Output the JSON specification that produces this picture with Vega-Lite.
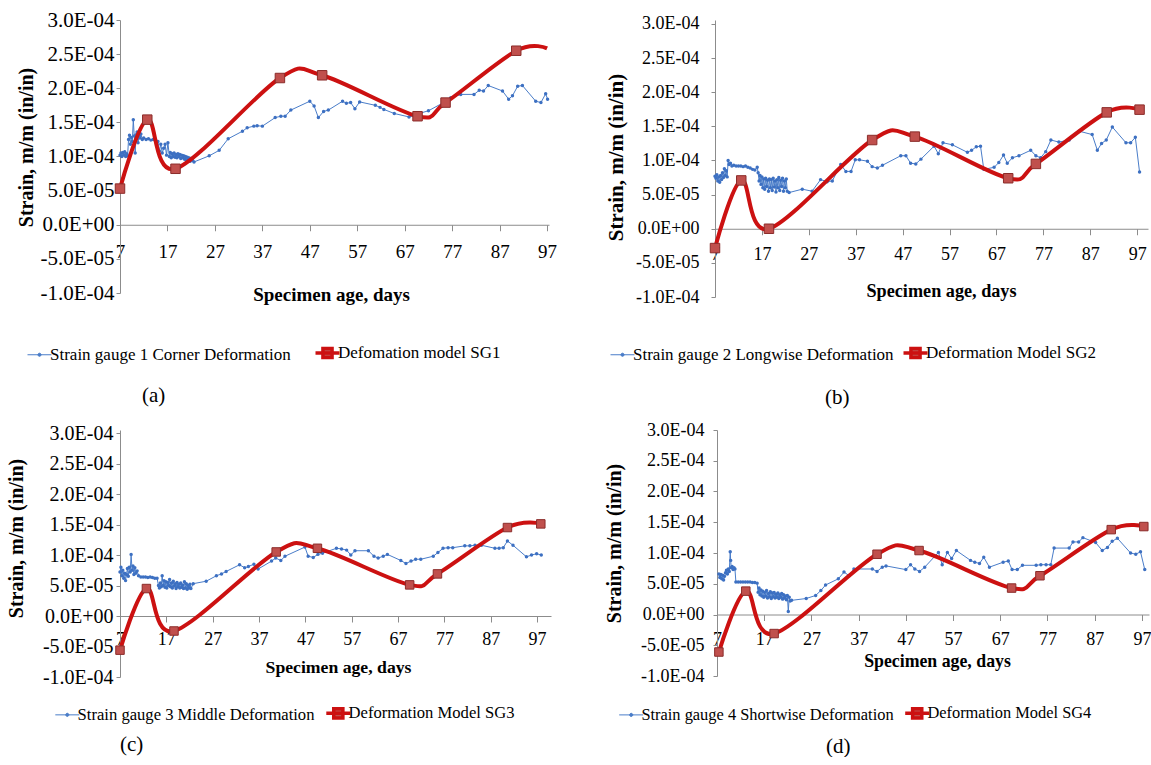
{
"$schema": "https://vega.github.io/schema/vega-lite/v6.json",
"padding": {"left": 5, "top": 9, "right": 0, "bottom": 0},
"background": "white",
"config": {
 "font": "Liberation Serif",
 "view": {"stroke": null},
 "axis": {"grid": false, "domainColor": "#8c8c8c", "tickColor": "#8c8c8c", "labelColor": "#000000", "titleColor": "#000000", "labelFont": "Liberation Serif", "titleFont": "Liberation Serif", "titleFontWeight": "bold", "labelFlush": false, "labelOverlap": false, "labelBound": false},
 "legend": {"labelFont": "Liberation Serif", "labelColor": "#000000", "labelLimit": 1000, "direction": "horizontal", "orient": "none", "symbolSize": 576, "labelOffset": 2}
},
"datasets": {
 "m1": [{"d":7,"s":5.3e-5},{"d":12.75,"s":1.54e-4},{"d":18.7,"s":8.2e-5},{"d":40.7,"s":2.15e-4},{"d":49.6,"s":2.19e-4},{"d":69.7,"s":1.59e-4},{"d":75.6,"s":1.79e-4},{"d":90.5,"s":2.55e-4},{"d":97,"s":2.585e-4}],
 "m2": [{"d":7,"s":-2.83e-5},{"d":12.6,"s":7.08e-5},{"d":18.5,"s":0},{"d":40.5,"s":1.30e-4},{"d":49.6,"s":1.35e-4},{"d":69.5,"s":7.4e-5},{"d":75.4,"s":9.5e-5},{"d":90.5,"s":1.705e-4},{"d":97.5,"s":1.745e-4}],
 "m3": [{"d":7,"s":-5.6e-5},{"d":12.7,"s":4.5e-5},{"d":18.65,"s":-2.46e-5},{"d":40.7,"s":1.05e-4},{"d":49.6,"s":1.11e-4},{"d":69.5,"s":5.1e-5},{"d":75.5,"s":6.9e-5},{"d":90.6,"s":1.45e-4},{"d":97.8,"s":1.51e-4}],
 "m4": [{"d":7.4,"s":-6.1e-5},{"d":13.1,"s":3.8e-5},{"d":19.1,"s":-3.1e-5},{"d":40.9,"s":9.8e-5},{"d":49.8,"s":1.04e-4},{"d":69.4,"s":4.3e-5},{"d":75.4,"s":6.3e-5},{"d":90.5,"s":1.38e-4},{"d":97.4,"s":1.43e-4}],
 "g1": [{"d":7,"s":1.02e-4},{"d":7.2,"s":1.05e-4},{"d":7.4,"s":1.0e-4},{"d":7.6,"s":1.06e-4},{"d":7.8,"s":1.02e-4},{"d":8.0,"s":1.07e-4},{"d":8.2,"s":1.0e-4},{"d":8.4,"s":1.04e-4},{"d":8.6,"s":1.01e-4},{"d":8.8,"s":1.25e-4},{"d":9.0,"s":1.31e-4},{"d":9.2,"s":1.18e-4},{"d":9.4,"s":1.28e-4},{"d":9.6,"s":1.22e-4},{"d":9.8,"s":1.54e-4},{"d":10.0,"s":1.3e-4},{"d":10.2,"s":1.05e-4},{"d":10.4,"s":1.32e-4},{"d":10.6,"s":1.36e-4},{"d":10.8,"s":1.2e-4},{"d":11.0,"s":1.3e-4},{"d":11.2,"s":1.27e-4},{"d":11.4,"s":1.33e-4},{"d":11.7,"s":1.25e-4},{"d":12.0,"s":1.27e-4},{"d":12.5,"s":1.25e-4},{"d":13.0,"s":1.26e-4},{"d":13.5,"s":1.24e-4},{"d":14.0,"s":1.25e-4},{"d":14.5,"s":1.24e-4},{"d":15.0,"s":1.22e-4},{"d":15.3,"s":1.08e-4},{"d":15.6,"s":1.18e-4},{"d":15.9,"s":1.05e-4},{"d":16.2,"s":1.12e-4},{"d":16.5,"s":1.18e-4},{"d":16.8,"s":1.02e-4},{"d":17.1,"s":1.2e-4},{"d":17.4,"s":1.0e-4},{"d":17.6,"s":1.06e-4},{"d":17.8,"s":9.8e-5},{"d":18.0,"s":1.04e-4},{"d":18.2,"s":1.0e-4},{"d":18.4,"s":1.05e-4},{"d":18.6,"s":9.9e-5},{"d":18.8,"s":1.03e-4},{"d":19.0,"s":9.8e-5},{"d":19.2,"s":1.04e-4},{"d":19.4,"s":1.0e-4},{"d":19.6,"s":1.03e-4},{"d":19.8,"s":9.7e-5},{"d":20.0,"s":1.02e-4},{"d":20.2,"s":9.8e-5},{"d":20.4,"s":1.01e-4},{"d":20.6,"s":9.6e-5},{"d":20.8,"s":1.0e-4},{"d":21.0,"s":9.5e-5},{"d":21.2,"s":9.9e-5},{"d":21.4,"s":9.4e-5},{"d":21.6,"s":9.8e-5},{"d":21.8,"s":9.3e-5},{"d":22.0,"s":9.7e-5},{"d":22.3,"s":9.4e-5},{"d":22.6,"s":9.2e-5},{"d":25.8,"s":1.01e-4},{"d":27.9,"s":1.09e-4},{"d":29.8,"s":1.26e-4},{"d":32.8,"s":1.37e-4},{"d":33.8,"s":1.42e-4},{"d":35.2,"s":1.445e-4},{"d":35.9,"s":1.45e-4},{"d":37.0,"s":1.445e-4},{"d":39.7,"s":1.57e-4},{"d":40.9,"s":1.59e-4},{"d":41.8,"s":1.59e-4},{"d":43.0,"s":1.68e-4},{"d":47.0,"s":1.81e-4},{"d":47.9,"s":1.74e-4},{"d":48.8,"s":1.57e-4},{"d":49.9,"s":1.66e-4},{"d":50.9,"s":1.68e-4},{"d":53.9,"s":1.81e-4},{"d":54.7,"s":1.78e-4},{"d":55.6,"s":1.79e-4},{"d":56.5,"s":1.70e-4},{"d":57.5,"s":1.80e-4},{"d":60.8,"s":1.75e-4},{"d":61.8,"s":1.72e-4},{"d":62.6,"s":1.69e-4},{"d":64.8,"s":1.63e-4},{"d":67.9,"s":1.58e-4},{"d":69.0,"s":1.6e-4},{"d":70.0,"s":1.63e-4},{"d":72.0,"s":1.67e-4},{"d":75.7,"s":1.81e-4},{"d":76.7,"s":1.86e-4},{"d":78.8,"s":1.91e-4},{"d":81.6,"s":1.91e-4},{"d":82.7,"s":1.97e-4},{"d":83.6,"s":1.96e-4},{"d":84.6,"s":2.04e-4},{"d":87.6,"s":1.96e-4},{"d":88.9,"s":1.84e-4},{"d":89.7,"s":1.89e-4},{"d":90.8,"s":2.03e-4},{"d":91.8,"s":2.04e-4},{"d":94.6,"s":1.81e-4},{"d":95.7,"s":1.79e-4},{"d":96.7,"s":1.92e-4},{"d":97.1,"s":1.84e-4}],
 "g2": [{"d":7.0,"s":7.7e-5},{"d":7.2,"s":7.4e-5},{"d":7.4,"s":7.9e-5},{"d":7.6,"s":7.0e-5},{"d":7.8,"s":7.6e-5},{"d":8.0,"s":6.8e-5},{"d":8.2,"s":7.8e-5},{"d":8.4,"s":7.2e-5},{"d":8.6,"s":8.2e-5},{"d":8.8,"s":7.5e-5},{"d":9.0,"s":8.8e-5},{"d":9.2,"s":7.8e-5},{"d":9.4,"s":8.5e-5},{"d":9.6,"s":7.6e-5},{"d":9.8,"s":1.0e-4},{"d":10.0,"s":9.4e-5},{"d":10.3,"s":9.6e-5},{"d":10.6,"s":9.2e-5},{"d":11.0,"s":9.3e-5},{"d":11.5,"s":9.2e-5},{"d":12.0,"s":9.2e-5},{"d":12.5,"s":9.2e-5},{"d":13.0,"s":9.1e-5},{"d":13.5,"s":9.2e-5},{"d":14.0,"s":9.0e-5},{"d":14.5,"s":8.9e-5},{"d":15.0,"s":8.7e-5},{"d":15.5,"s":8.6e-5},{"d":16.0,"s":9.0e-5},{"d":16.2,"s":8.2e-5},{"d":16.4,"s":7.0e-5},{"d":16.6,"s":7.8e-5},{"d":16.8,"s":6.5e-5},{"d":17.0,"s":7.6e-5},{"d":17.2,"s":6.0e-5},{"d":17.4,"s":7.3e-5},{"d":17.6,"s":5.8e-5},{"d":17.8,"s":7.4e-5},{"d":18.0,"s":6.2e-5},{"d":18.2,"s":7.1e-5},{"d":18.4,"s":5.5e-5},{"d":18.6,"s":7.3e-5},{"d":18.8,"s":6.0e-5},{"d":19.0,"s":7.2e-5},{"d":19.2,"s":5.6e-5},{"d":19.4,"s":7.4e-5},{"d":19.6,"s":6.1e-5},{"d":19.8,"s":7.0e-5},{"d":20.0,"s":5.4e-5},{"d":20.2,"s":7.2e-5},{"d":20.4,"s":6.0e-5},{"d":20.6,"s":7.5e-5},{"d":20.8,"s":5.6e-5},{"d":21.0,"s":7.1e-5},{"d":21.2,"s":6.2e-5},{"d":21.4,"s":7.4e-5},{"d":21.6,"s":5.5e-5},{"d":21.8,"s":7.0e-5},{"d":22.0,"s":6.0e-5},{"d":22.2,"s":7.3e-5},{"d":22.4,"s":5.5e-5},{"d":22.8,"s":5.3e-5},{"d":25.6,"s":5.8e-5},{"d":27.7,"s":5.5e-5},{"d":29.5,"s":7.2e-5},{"d":30.9,"s":6.9e-5},{"d":32.0,"s":7.0e-5},{"d":33.8,"s":9.4e-5},{"d":34.9,"s":8.4e-5},{"d":36.0,"s":8.4e-5},{"d":36.9,"s":1.01e-4},{"d":37.8,"s":1.01e-4},{"d":39.5,"s":9.9e-5},{"d":40.5,"s":9.1e-5},{"d":41.6,"s":8.9e-5},{"d":42.7,"s":9.3e-5},{"d":46.6,"s":1.07e-4},{"d":47.7,"s":1.07e-4},{"d":48.7,"s":9.6e-5},{"d":49.8,"s":9.5e-5},{"d":50.9,"s":1.02e-4},{"d":53.7,"s":1.21e-4},{"d":54.6,"s":1.10e-4},{"d":55.6,"s":1.26e-4},{"d":57.6,"s":1.23e-4},{"d":60.8,"s":1.12e-4},{"d":61.7,"s":1.15e-4},{"d":62.7,"s":1.20e-4},{"d":63.6,"s":1.21e-4},{"d":64.3,"s":8.7e-5},{"d":66.5,"s":9.0e-5},{"d":67.5,"s":9.7e-5},{"d":68.5,"s":1.08e-4},{"d":69.3,"s":9.6e-5},{"d":70.4,"s":1.04e-4},{"d":71.8,"s":1.07e-4},{"d":74.3,"s":1.15e-4},{"d":75.4,"s":1.07e-4},{"d":76.4,"s":1.04e-4},{"d":77.5,"s":1.13e-4},{"d":78.6,"s":1.30e-4},{"d":80.3,"s":1.27e-4},{"d":82.5,"s":1.30e-4},{"d":84.6,"s":1.43e-4},{"d":87.4,"s":1.38e-4},{"d":88.5,"s":1.15e-4},{"d":89.4,"s":1.25e-4},{"d":90.4,"s":1.30e-4},{"d":91.7,"s":1.49e-4},{"d":94.6,"s":1.26e-4},{"d":95.6,"s":1.26e-4},{"d":96.6,"s":1.34e-4},{"d":97.5,"s":8.3e-5}],
 "g3": [{"d":7.0,"s":7.2e-5},{"d":7.2,"s":8.0e-5},{"d":7.4,"s":6.6e-5},{"d":7.6,"s":7.5e-5},{"d":7.8,"s":6.2e-5},{"d":8.0,"s":7.0e-5},{"d":8.2,"s":5.8e-5},{"d":8.4,"s":6.8e-5},{"d":8.6,"s":7.8e-5},{"d":8.8,"s":6.5e-5},{"d":9.0,"s":8.0e-5},{"d":9.2,"s":7.2e-5},{"d":9.4,"s":1.01e-4},{"d":9.6,"s":7.5e-5},{"d":9.8,"s":8.2e-5},{"d":10.0,"s":6.8e-5},{"d":10.2,"s":7.9e-5},{"d":10.4,"s":7.0e-5},{"d":10.7,"s":7.4e-5},{"d":11.0,"s":6.6e-5},{"d":11.5,"s":6.4e-5},{"d":12.0,"s":6.4e-5},{"d":12.5,"s":6.4e-5},{"d":13.0,"s":6.3e-5},{"d":13.5,"s":6.4e-5},{"d":14.0,"s":6.3e-5},{"d":14.5,"s":6.2e-5},{"d":15.0,"s":6.2e-5},{"d":15.3,"s":5.0e-5},{"d":15.5,"s":4.6e-5},{"d":15.7,"s":5.4e-5},{"d":15.9,"s":4.8e-5},{"d":16.1,"s":6.6e-5},{"d":16.3,"s":5.0e-5},{"d":16.5,"s":5.8e-5},{"d":16.7,"s":4.7e-5},{"d":16.9,"s":5.6e-5},{"d":17.1,"s":4.6e-5},{"d":17.3,"s":5.5e-5},{"d":17.5,"s":5.0e-5},{"d":17.7,"s":6.0e-5},{"d":17.9,"s":4.8e-5},{"d":18.1,"s":5.4e-5},{"d":18.3,"s":4.6e-5},{"d":18.5,"s":5.7e-5},{"d":18.7,"s":4.9e-5},{"d":18.9,"s":5.3e-5},{"d":19.1,"s":4.5e-5},{"d":19.3,"s":5.5e-5},{"d":19.5,"s":4.8e-5},{"d":19.7,"s":5.2e-5},{"d":19.9,"s":4.6e-5},{"d":20.1,"s":5.4e-5},{"d":20.3,"s":4.7e-5},{"d":20.5,"s":5.1e-5},{"d":20.7,"s":4.5e-5},{"d":20.9,"s":5.6e-5},{"d":21.1,"s":4.6e-5},{"d":21.3,"s":5.3e-5},{"d":21.5,"s":4.4e-5},{"d":21.7,"s":5.0e-5},{"d":21.9,"s":4.6e-5},{"d":22.1,"s":5.2e-5},{"d":22.3,"s":4.5e-5},{"d":22.8,"s":5.3e-5},{"d":25.6,"s":5.7e-5},{"d":27.8,"s":6.6e-5},{"d":28.9,"s":6.9e-5},{"d":29.9,"s":7.3e-5},{"d":32.8,"s":8.4e-5},{"d":33.9,"s":7.9e-5},{"d":34.7,"s":8.1e-5},{"d":35.9,"s":8.5e-5},{"d":36.8,"s":7.7e-5},{"d":39.7,"s":9.0e-5},{"d":40.6,"s":9.5e-5},{"d":41.7,"s":9.1e-5},{"d":42.6,"s":9.8e-5},{"d":46.9,"s":1.13e-4},{"d":47.6,"s":9.8e-5},{"d":48.7,"s":9.6e-5},{"d":49.7,"s":1.01e-4},{"d":50.7,"s":1.03e-4},{"d":53.7,"s":1.11e-4},{"d":54.8,"s":1.10e-4},{"d":55.9,"s":1.08e-4},{"d":56.8,"s":1.0e-4},{"d":57.7,"s":1.07e-4},{"d":60.6,"s":1.07e-4},{"d":61.8,"s":9.8e-5},{"d":62.7,"s":9.5e-5},{"d":63.8,"s":9.8e-5},{"d":64.7,"s":1.01e-4},{"d":67.6,"s":9.1e-5},{"d":68.7,"s":8.6e-5},{"d":69.8,"s":9.0e-5},{"d":70.8,"s":9.3e-5},{"d":71.9,"s":9.3e-5},{"d":74.6,"s":9.8e-5},{"d":75.6,"s":1.04e-4},{"d":76.7,"s":1.11e-4},{"d":77.8,"s":1.12e-4},{"d":78.8,"s":1.12e-4},{"d":81.4,"s":1.15e-4},{"d":82.5,"s":1.15e-4},{"d":83.6,"s":1.16e-4},{"d":85.0,"s":1.16e-4},{"d":87.9,"s":1.11e-4},{"d":88.8,"s":1.11e-4},{"d":89.7,"s":1.12e-4},{"d":90.6,"s":1.23e-4},{"d":91.8,"s":1.16e-4},{"d":94.7,"s":9.7e-5},{"d":95.8,"s":1.0e-4},{"d":96.9,"s":1.02e-4},{"d":97.9,"s":1.0e-4}],
 "g4": [{"d":7.4,"s":6.6e-5},{"d":7.6,"s":6.0e-5},{"d":7.8,"s":6.5e-5},{"d":8.0,"s":5.8e-5},{"d":8.2,"s":6.4e-5},{"d":8.4,"s":5.6e-5},{"d":8.6,"s":6.2e-5},{"d":8.8,"s":6.8e-5},{"d":9.0,"s":7.2e-5},{"d":9.2,"s":6.6e-5},{"d":9.4,"s":7.4e-5},{"d":9.6,"s":7.0e-5},{"d":9.8,"s":1.02e-4},{"d":9.9,"s":8.8e-5},{"d":10.0,"s":7.6e-5},{"d":10.2,"s":7.8e-5},{"d":10.4,"s":7.3e-5},{"d":10.6,"s":7.6e-5},{"d":10.8,"s":7.4e-5},{"d":11.0,"s":5.3e-5},{"d":11.5,"s":5.3e-5},{"d":12.0,"s":5.3e-5},{"d":12.5,"s":5.3e-5},{"d":13.0,"s":5.3e-5},{"d":13.5,"s":5.3e-5},{"d":14.0,"s":5.3e-5},{"d":14.5,"s":5.2e-5},{"d":15.0,"s":5.2e-5},{"d":15.5,"s":5.1e-5},{"d":15.7,"s":3.6e-5},{"d":15.9,"s":4.3e-5},{"d":16.1,"s":3.2e-5},{"d":16.3,"s":4.0e-5},{"d":16.5,"s":3.0e-5},{"d":16.7,"s":3.8e-5},{"d":16.9,"s":2.8e-5},{"d":17.1,"s":3.6e-5},{"d":17.3,"s":3.0e-5},{"d":17.5,"s":3.9e-5},{"d":17.7,"s":2.7e-5},{"d":17.9,"s":3.4e-5},{"d":18.1,"s":2.9e-5},{"d":18.3,"s":3.7e-5},{"d":18.5,"s":2.6e-5},{"d":18.7,"s":3.5e-5},{"d":18.9,"s":2.9e-5},{"d":19.1,"s":3.6e-5},{"d":19.3,"s":2.7e-5},{"d":19.5,"s":3.3e-5},{"d":19.7,"s":2.8e-5},{"d":19.9,"s":3.5e-5},{"d":20.1,"s":2.6e-5},{"d":20.3,"s":3.2e-5},{"d":20.5,"s":2.8e-5},{"d":20.7,"s":3.4e-5},{"d":20.9,"s":2.5e-5},{"d":21.1,"s":3.2e-5},{"d":21.3,"s":2.7e-5},{"d":21.5,"s":3.0e-5},{"d":21.7,"s":2.4e-5},{"d":21.9,"s":3.1e-5},{"d":22.1,"s":5e-6},{"d":22.3,"s":2.8e-5},{"d":22.5,"s":2.2e-5},{"d":22.8,"s":2.3e-5},{"d":25.9,"s":2.6e-5},{"d":27.9,"s":3.1e-5},{"d":29.0,"s":3.9e-5},{"d":30.0,"s":4.8e-5},{"d":32.7,"s":5.8e-5},{"d":33.9,"s":6.9e-5},{"d":35.0,"s":6.3e-5},{"d":36.0,"s":7.4e-5},{"d":39.9,"s":7.4e-5},{"d":40.9,"s":7.0e-5},{"d":42.0,"s":7.7e-5},{"d":42.8,"s":7.9e-5},{"d":47.0,"s":7.3e-5},{"d":48.0,"s":8.1e-5},{"d":48.9,"s":7.4e-5},{"d":49.9,"s":7.0e-5},{"d":51.0,"s":7.7e-5},{"d":53.9,"s":1.01e-4},{"d":54.7,"s":8.1e-5},{"d":55.8,"s":1.01e-4},{"d":56.7,"s":9.1e-5},{"d":57.7,"s":1.04e-4},{"d":60.7,"s":8.8e-5},{"d":61.6,"s":8.5e-5},{"d":62.6,"s":8.3e-5},{"d":63.5,"s":9.3e-5},{"d":64.7,"s":7.7e-5},{"d":67.6,"s":8.5e-5},{"d":68.7,"s":8.7e-5},{"d":69.5,"s":7.3e-5},{"d":70.6,"s":7.3e-5},{"d":71.7,"s":8.0e-5},{"d":74.6,"s":8.0e-5},{"d":75.6,"s":8.1e-5},{"d":76.7,"s":8.1e-5},{"d":77.7,"s":8.1e-5},{"d":78.4,"s":1.08e-4},{"d":81.6,"s":1.08e-4},{"d":82.4,"s":1.18e-4},{"d":83.6,"s":1.18e-4},{"d":84.5,"s":1.25e-4},{"d":87.2,"s":1.17e-4},{"d":88.6,"s":1.04e-4},{"d":89.7,"s":1.09e-4},{"d":90.7,"s":1.19e-4},{"d":91.8,"s":1.24e-4},{"d":94.6,"s":1.0e-4},{"d":95.7,"s":9.8e-5},{"d":96.7,"s":1.02e-4},{"d":97.6,"s":7.3e-5}]
},
"spacing": 410,
"bounds": "flush",
"resolve": {"scale": {"color": "independent"}, "legend": {"color": "independent"}},
"vconcat": [
 {"hconcat": [
  {"width": 429, "height": 273,
   "title": {"text": "(a)", "orient": "bottom", "anchor": "start", "frame": "group", "dx": 22, "offset": 20, "fontSize": 21, "fontWeight": "normal", "font": "Liberation Serif", "color": "#000000"},
   "encoding": {
    "x": {"field": "d", "type": "quantitative", "scale": {"domain": [7, 97.4], "nice": false, "zero": false},
          "axis": {"values": [7,17,27,37,47,57,67,77,87,97], "offset": -68.25, "title": "Specimen age, days", "titleX": 211, "titleY": 61, "labelFontSize": 19, "titleFontSize": 19, "labelPadding": 12, "tickSize": 6}},
    "y": {"field": "s", "type": "quantitative", "scale": {"domain": [-0.0001, 0.0003], "nice": false, "zero": false},
          "axis": {"values": [-0.0001,-0.00005,0,0.00005,0.0001,0.00015,0.0002,0.00025,0.0003], "labelExpr": "datum.value == 0 ? '0.0E+00' : (datum.value < 0 ? '-' : '') + (abs(datum.value) > 0.00009 ? format(abs(datum.value)*10000, '.1f') + 'E-04' : format(abs(datum.value)*100000, '.1f') + 'E-05')", "title": "Strain, m/m (in/in)", "titleX": -84, "titleY": 127, "labelFontSize": 21, "titleFontSize": 20, "tickSize": 4, "labelPadding": 2}}
   },
   "layer": [
    {"data": {"name": "g1"}, "mark": {"type": "line", "strokeWidth": 1},
     "encoding": {"color": {"datum": "Strain gauge 1 Corner Deformation", "scale": {"domain": ["Strain gauge 1 Corner Deformation", "Defomation model SG1"], "range": ["#4a7dc9", "#cc1111"]},
       "legend": {"title": null, "legendX": -89, "legendY": 324, "labelFontSize": 17, "columnPadding": 17,
         "encode": {"symbols": {"update": {
           "shape": {"signal": "datum.index == 1 ? 'M-1,0H1M-0.38,-0.38H0.38V0.38H-0.38Z' : 'M-1,0H1M-0.13,0A0.13,0.13,0,1,1,0.13,0A0.13,0.13,0,1,1,-0.13,0Z'"},
           "fill": {"signal": "datum.index == 1 ? '#c0504d' : '#4a7dc9'"},
           "stroke": {"signal": "datum.index == 1 ? '#cc1111' : '#4a7dc9'"},
           "strokeWidth": {"signal": "datum.index == 1 ? 3.5 : 1"},
           "size": {"value": 576}, "opacity": {"value": 1}, "fillOpacity": {"value": 1}, "strokeOpacity": {"value": 1}}}}}}}},
    {"data": {"name": "g1"}, "mark": {"type": "point", "filled": true, "size": 12, "color": "#3d70c2", "opacity": 1}},
    {"data": {"name": "m1"}, "mark": {"type": "line", "interpolate": "cardinal", "tension": 0, "strokeWidth": 4},
     "encoding": {"color": {"datum": "Defomation model SG1"}}},
    {"data": {"name": "m1"}, "transform": [{"filter": "datum.d < 95"}], "mark": {"type": "square", "size": 90, "filled": true, "color": "#c0504d", "stroke": "#8b2c2a", "strokeWidth": 1, "opacity": 1}}
   ]},
  {"width": 433, "height": 277,
   "title": {"text": "(b)", "orient": "bottom", "anchor": "start", "frame": "group", "dx": 110, "offset": 22, "fontSize": 21, "fontWeight": "normal", "font": "Liberation Serif", "color": "#000000"},
   "encoding": {
    "x": {"field": "d", "type": "quantitative", "scale": {"domain": [7, 99.3], "nice": false, "zero": false},
          "axis": {"values": [7,17,27,37,47,57,67,77,87,97], "offset": -68.25, "title": "Specimen age, days", "titleX": 226, "titleY": 54, "labelFontSize": 18, "titleFontSize": 18.2, "labelPadding": 10.6, "tickSize": 6}},
    "y": {"field": "s", "type": "quantitative", "scale": {"domain": [-0.0001, 0.00030586], "nice": false, "zero": false},
          "axis": {"values": [-0.0001,-0.00005,0,0.00005,0.0001,0.00015,0.0002,0.00025,0.0003], "labelExpr": "datum.value == 0 ? '0.0E+00' : (datum.value < 0 ? '-' : '') + (abs(datum.value) > 0.00009 ? format(abs(datum.value)*10000, '.1f') + 'E-04' : format(abs(datum.value)*100000, '.1f') + 'E-05')", "title": "Strain, m/m (in/in)", "titleX": -88.5, "titleY": 137, "labelFontSize": 18, "titleFontSize": 21, "tickSize": 4, "labelPadding": 12}}
   },
   "layer": [
    {"data": {"name": "g2"}, "mark": {"type": "line", "strokeWidth": 1},
     "encoding": {"color": {"datum": "Strain gauge 2 Longwise Deformation", "scale": {"domain": ["Strain gauge 2 Longwise Deformation", "Deformation Model SG2"], "range": ["#4a7dc9", "#cc1111"]},
       "legend": {"title": null, "legendX": -101, "legendY": 324, "labelFontSize": 17, "columnPadding": 2,
         "encode": {"symbols": {"update": {
           "shape": {"signal": "datum.index == 1 ? 'M-1,0H1M-0.38,-0.38H0.38V0.38H-0.38Z' : 'M-1,0H1M-0.13,0A0.13,0.13,0,1,1,0.13,0A0.13,0.13,0,1,1,-0.13,0Z'"},
           "fill": {"signal": "datum.index == 1 ? '#c0504d' : '#4a7dc9'"},
           "stroke": {"signal": "datum.index == 1 ? '#cc1111' : '#4a7dc9'"},
           "strokeWidth": {"signal": "datum.index == 1 ? 3.5 : 1"},
           "size": {"value": 576}, "opacity": {"value": 1}, "fillOpacity": {"value": 1}, "strokeOpacity": {"value": 1}}}}}}}},
    {"data": {"name": "g2"}, "mark": {"type": "point", "filled": true, "size": 12, "color": "#3d70c2", "opacity": 1}},
    {"data": {"name": "m2"}, "mark": {"type": "line", "interpolate": "cardinal", "tension": 0, "strokeWidth": 4},
     "encoding": {"color": {"datum": "Deformation Model SG2"}}},
    {"data": {"name": "m2"}, "mark": {"type": "square", "size": 90, "filled": true, "color": "#c0504d", "stroke": "#8b2c2a", "strokeWidth": 1, "opacity": 1}}
   ]}
 ], "spacing": 166, "bounds": "flush", "resolve": {"scale": {"color": "independent"}, "legend": {"color": "independent"}}},
 {"hconcat": [
  {"width": 431, "height": 247,
   "title": {"text": "(c)", "orient": "bottom", "anchor": "start", "frame": "group", "dx": 0, "offset": 9, "fontSize": 21, "fontWeight": "normal", "font": "Liberation Serif", "color": "#000000"},
   "encoding": {
    "x": {"field": "d", "type": "quantitative", "scale": {"domain": [7, 100], "nice": false, "zero": false},
          "axis": {"values": [7,17,27,37,47,57,67,77,87,97], "offset": -61, "title": "Specimen age, days", "titleX": 218, "titleY": 42, "labelFontSize": 18, "titleFontSize": 17.7, "labelPadding": 8, "tickSize": 6}},
    "y": {"field": "s", "type": "quantitative", "scale": {"domain": [-0.0001, 0.00030492], "nice": false, "zero": false},
          "axis": {"values": [-0.0001,-0.00005,0,0.00005,0.0001,0.00015,0.0002,0.00025,0.0003], "labelExpr": "datum.value == 0 ? '0.0E+00' : (datum.value < 0 ? '-' : '') + (abs(datum.value) > 0.00009 ? format(abs(datum.value)*10000, '.1f') + 'E-04' : format(abs(datum.value)*100000, '.1f') + 'E-05')", "title": "Strain, m/m (in/in)", "titleX": -94, "titleY": 108, "labelFontSize": 20, "titleFontSize": 20, "tickSize": 4, "labelPadding": 3}}
   },
   "layer": [
    {"data": {"name": "g3"}, "mark": {"type": "line", "strokeWidth": 1},
     "encoding": {"color": {"datum": "Strain gauge 3 Middle Deformation", "scale": {"domain": ["Strain gauge 3 Middle Deformation", "Deformation Model SG3"], "range": ["#4a7dc9", "#cc1111"]},
       "legend": {"title": null, "legendX": -61, "legendY": 275, "labelFontSize": 16.6, "columnPadding": 4,
         "encode": {"symbols": {"update": {
           "shape": {"signal": "datum.index == 1 ? 'M-1,0H1M-0.38,-0.38H0.38V0.38H-0.38Z' : 'M-1,0H1M-0.13,0A0.13,0.13,0,1,1,0.13,0A0.13,0.13,0,1,1,-0.13,0Z'"},
           "fill": {"signal": "datum.index == 1 ? '#c0504d' : '#4a7dc9'"},
           "stroke": {"signal": "datum.index == 1 ? '#cc1111' : '#4a7dc9'"},
           "strokeWidth": {"signal": "datum.index == 1 ? 3.5 : 1"},
           "size": {"value": 576}, "opacity": {"value": 1}, "fillOpacity": {"value": 1}, "strokeOpacity": {"value": 1}}}}}}}},
    {"data": {"name": "g3"}, "mark": {"type": "point", "filled": true, "size": 12, "color": "#3d70c2", "opacity": 1}},
    {"data": {"name": "m3"}, "mark": {"type": "line", "interpolate": "cardinal", "tension": 0, "strokeWidth": 4},
     "encoding": {"color": {"datum": "Deformation Model SG3"}}},
    {"data": {"name": "m3"}, "mark": {"type": "square", "size": 72, "filled": true, "color": "#c0504d", "stroke": "#8b2c2a", "strokeWidth": 1, "opacity": 1}}
   ]},
  {"width": 432, "height": 246,
   "title": {"text": "(d)", "orient": "bottom", "anchor": "start", "frame": "group", "dx": 109, "offset": 11, "fontSize": 21, "fontWeight": "normal", "font": "Liberation Serif", "color": "#000000"},
   "encoding": {
    "x": {"field": "d", "type": "quantitative", "scale": {"domain": [7, 98.5], "nice": false, "zero": false},
          "axis": {"values": [7,17,27,37,47,57,67,77,87,97], "offset": -61.5, "title": "Specimen age, days", "titleX": 220, "titleY": 37.5, "labelFontSize": 18, "titleFontSize": 17.8, "labelPadding": 9.5, "tickSize": 6}},
    "y": {"field": "s", "type": "quantitative", "scale": {"domain": [-0.0001, 0.0003], "nice": false, "zero": false},
          "axis": {"values": [-0.0001,-0.00005,0,0.00005,0.0001,0.00015,0.0002,0.00025,0.0003], "labelExpr": "datum.value == 0 ? '0.0E+00' : (datum.value < 0 ? '-' : '') + (abs(datum.value) > 0.00009 ? format(abs(datum.value)*10000, '.1f') + 'E-04' : format(abs(datum.value)*100000, '.1f') + 'E-05')", "title": "Strain, m/m (in/in)", "titleX": -93, "titleY": 113, "labelFontSize": 18, "titleFontSize": 20, "tickSize": 4, "labelPadding": 9}}
   },
   "layer": [
    {"data": {"name": "g4"}, "mark": {"type": "line", "strokeWidth": 1},
     "encoding": {"color": {"datum": "Strain gauge 4 Shortwise Deformation", "scale": {"domain": ["Strain gauge 4 Shortwise Deformation", "Deformation Model SG4"], "range": ["#4a7dc9", "#cc1111"]},
       "legend": {"title": null, "legendX": -94, "legendY": 275, "labelFontSize": 16.4, "columnPadding": 4,
         "encode": {"symbols": {"update": {
           "shape": {"signal": "datum.index == 1 ? 'M-1,0H1M-0.38,-0.38H0.38V0.38H-0.38Z' : 'M-1,0H1M-0.13,0A0.13,0.13,0,1,1,0.13,0A0.13,0.13,0,1,1,-0.13,0Z'"},
           "fill": {"signal": "datum.index == 1 ? '#c0504d' : '#4a7dc9'"},
           "stroke": {"signal": "datum.index == 1 ? '#cc1111' : '#4a7dc9'"},
           "strokeWidth": {"signal": "datum.index == 1 ? 3.5 : 1"},
           "size": {"value": 576}, "opacity": {"value": 1}, "fillOpacity": {"value": 1}, "strokeOpacity": {"value": 1}}}}}}}},
    {"data": {"name": "g4"}, "mark": {"type": "point", "filled": true, "size": 12, "color": "#3d70c2", "opacity": 1}},
    {"data": {"name": "m4"}, "mark": {"type": "line", "interpolate": "cardinal", "tension": 0, "strokeWidth": 4},
     "encoding": {"color": {"datum": "Deformation Model SG4"}}},
    {"data": {"name": "m4"}, "mark": {"type": "square", "size": 72, "filled": true, "color": "#c0504d", "stroke": "#8b2c2a", "strokeWidth": 1, "opacity": 1}}
   ]}
 ], "spacing": 166, "bounds": "flush", "resolve": {"scale": {"color": "independent"}, "legend": {"color": "independent"}}}
]
}
